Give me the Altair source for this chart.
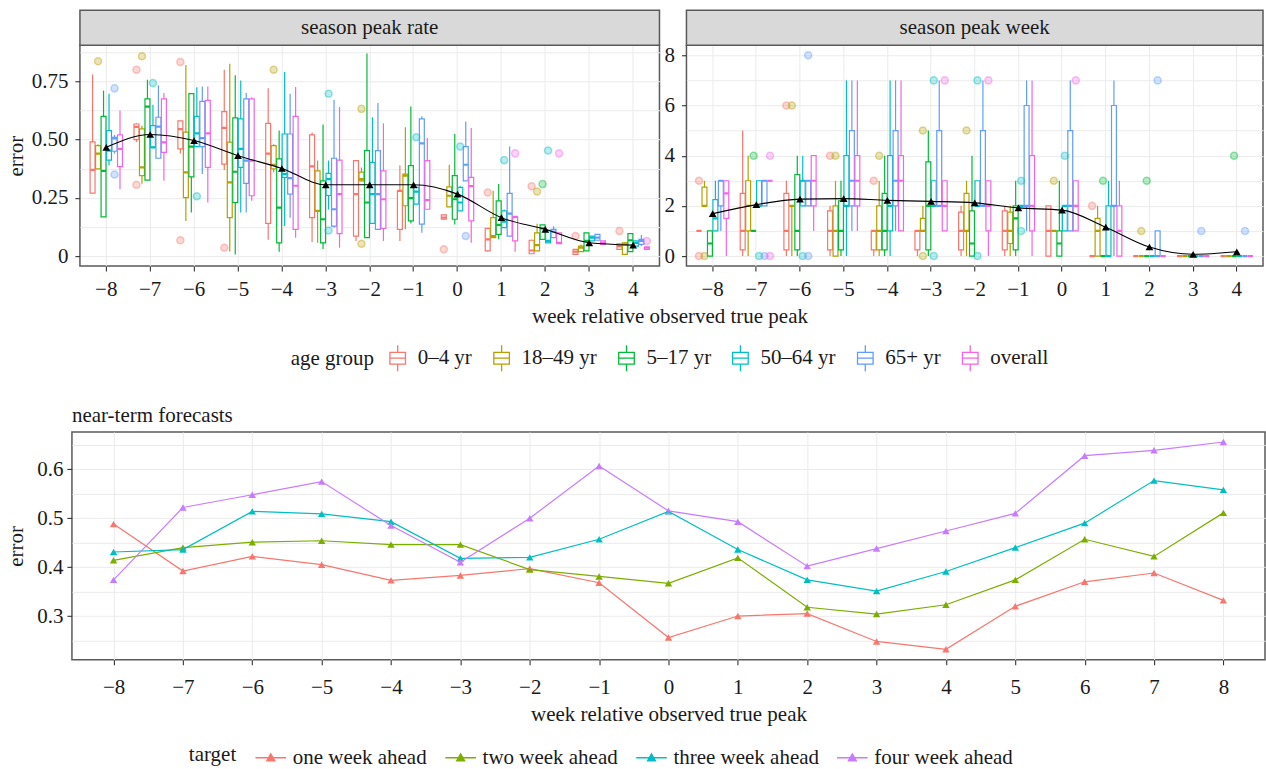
import altair as alt
import pandas as pd

FONT = "Liberation Serif"
FS = 21

WEEKS_TOP = list(range(-8, 5))
AGE_GROUPS = ["0–4 yr", "18–49 yr", "5–17 yr", "50–64 yr", "65+ yr", "overall"]
AGE_COLORS = ["#F8766D", "#B79F00", "#00BA38", "#00BFC4", "#619CFF", "#F564E3"]

# ---- season peak rate: (lower whisker, q1, median, q3, upper whisker) for weeks -8..4
RATE_0_4 = [(0.27, 0.27, 0.37, 0.49, 0.78), (0.49, 0.50, 0.555, 0.567, 0.57), (0.44, 0.46, 0.545, 0.58, 0.58),
            (0.37, 0.395, 0.55, 0.62, 0.80), (0.07, 0.14, 0.44, 0.57, 0.72), (0.06, 0.165, 0.385, 0.52, 0.53),
            (0.065, 0.086, 0.266, 0.41, 0.41), (0.065, 0.115, 0.28, 0.28, 0.39), (0.158, 0.158, 0.165, 0.177, 0.18),
            (0.02, 0.022, 0.072, 0.119, 0.12), (0.01, 0.01, 0.024, 0.068, 0.07), (0.007, 0.007, 0.019, 0.029, 0.03),
            (0.029, 0.029, 0.043, 0.053, 0.055)]
RATE_18_49 = [(0.374, 0.374, 0.44, 0.474, 0.48), (0.31, 0.345, 0.381, 0.546, 0.56), (0.151, 0.251, 0.359, 0.532, 0.82),
              (0.02, 0.165, 0.316, 0.489, 0.826), (0.36, 0.374, 0.392, 0.474, 0.48), (0.057, 0.194, 0.194, 0.366, 0.41),
              (0.32, 0.323, 0.33, 0.36, 0.38), (0.115, 0.216, 0.345, 0.352, 0.553), (0.211, 0.211, 0.259, 0.297, 0.392),
              (0.079, 0.079, 0.086, 0.165, 0.28), (0.022, 0.022, 0.047, 0.10, 0.139), (0.019, 0.019, 0.036, 0.043, 0.05),
              (0.007, 0.007, 0.05, 0.057, 0.06)]
RATE_5_17 = [(0.168, 0.168, 0.366, 0.60, 0.71), (0.326, 0.326, 0.642, 0.675, 0.757), (0.187, 0.34, 0.47, 0.697, 0.70),
             (0.007, 0.23, 0.362, 0.593, 0.776), (0.019, 0.057, 0.208, 0.417, 0.539), (0.03, 0.057, 0.158, 0.323, 0.565),
             (0.079, 0.079, 0.23, 0.453, 0.87), (0.14, 0.151, 0.249, 0.388, 0.642), (0.136, 0.158, 0.244, 0.345, 0.524),
             (0.072, 0.093, 0.134, 0.237, 0.309), (0.072, 0.072, 0.119, 0.134, 0.134), (0.022, 0.022, 0.065, 0.10, 0.10),
             (0.019, 0.019, 0.068, 0.096, 0.096)]
RATE_50_64 = [(0.39, 0.412, 0.453, 0.539, 0.697), (0.467, 0.467, 0.467, 0.56, 0.65), (0.47, 0.47, 0.527, 0.60, 0.725),
              (0.187, 0.381, 0.46, 0.589, 0.754), (0.129, 0.338, 0.352, 0.524, 0.79), (0.20, 0.26, 0.33, 0.355, 0.41),
              (0.14, 0.14, 0.266, 0.402, 0.596), (0.223, 0.223, 0.277, 0.295, 0.295), (0.194, 0.194, 0.23, 0.295, 0.30),
              (0.122, 0.122, 0.148, 0.194, 0.20), (0.057, 0.057, 0.065, 0.11, 0.11), (0.065, 0.065, 0.079, 0.086, 0.086),
              (0.043, 0.043, 0.057, 0.065, 0.065)]
RATE_65 = [(0.44, 0.45, 0.505, 0.51, 0.52), (0.42, 0.42, 0.556, 0.596, 0.733), (0.352, 0.47, 0.506, 0.664, 0.728),
           (0.187, 0.312, 0.41, 0.675, 0.70), (0.165, 0.266, 0.335, 0.524, 0.697), (0.122, 0.129, 0.201, 0.42, 0.67),
           (0.115, 0.115, 0.266, 0.453, 0.657), (0.10, 0.137, 0.484, 0.589, 0.60), (0.323, 0.323, 0.392, 0.47, 0.578),
           (0.086, 0.086, 0.182, 0.269, 0.47), (0.079, 0.079, 0.105, 0.115, 0.128), (0.068, 0.068, 0.079, 0.093, 0.093),
           (0.043, 0.05, 0.065, 0.072, 0.09)]
RATE_OVERALL = [(0.287, 0.384, 0.46, 0.52, 0.625), (0.323, 0.445, 0.488, 0.675, 0.70), (0.23, 0.381, 0.527, 0.668, 0.728),
                (0.237, 0.259, 0.41, 0.675, 0.682), (0.079, 0.115, 0.302, 0.60, 0.726), (0.036, 0.096, 0.266, 0.412, 0.64),
                (0.065, 0.119, 0.244, 0.366, 0.57), (0.201, 0.201, 0.24, 0.41, 0.507), (0.057, 0.151, 0.30, 0.338, 0.55),
                (0.019, 0.065, 0.168, 0.168, 0.168), (0.053, 0.053, 0.057, 0.10, 0.10), (0.05, 0.05, 0.057, 0.065, 0.065),
                (0.029, 0.029, 0.036, 0.039, 0.039)]
RATE_OUTLIERS = {
    "0–4 yr": [(-7, 0.80), (-7, 0.306), (-6, 0.833), (-6, 0.068), (-5, 0.036), (0, 0.029), (1, 0.273), (2, 0.30), (3, 0.086), (4, 0.108)],
    "18–49 yr": [(-8, 0.836), (-7, 0.858), (-4, 0.80), (-2, 0.632), (-2, 0.053), (2, 0.277)],
    "5–17 yr": [(2, 0.309)],
    "50–64 yr": [(-7, 0.743), (-6, 0.257), (-3, 0.697), (-3, 0.11), (-1, 0.51), (0, 0.47), (1, 0.412), (2, 0.453)],
    "65+ yr": [(-8, 0.72), (-8, 0.35), (0, 0.086)],
    "overall": [(1, 0.441), (2, 0.441), (4, 0.065)],
}
RATE_MEAN = [0.467, 0.522, 0.496, 0.431, 0.376, 0.306, 0.306, 0.306, 0.266, 0.165, 0.115, 0.057, 0.047]

# ---- season peak week
WEEK_0_4 = [(1, 1, 1, 1, 1), (0, 0.25, 1, 2.5, 5), (0, 0.25, 1, 2.5, 3), (0, 0.25, 1, 1.8, 2), (0, 0.25, 1, 1, 1),
            (0, 0.25, 1, 1, 1), (0, 0.25, 1, 1.75, 2), (0, 0.25, 1, 1.8, 2), (0, 0, 1, 2, 2), (0, 0, 0, 0, 0),
            (0, 0, 0, 0, 0), (0, 0, 0, 0, 0), (0, 0, 0, 0, 0)]
WEEK_18_49 = [(2, 2, 2, 2.75, 3), (0, 1, 2, 3, 4), (0, 2, 2, 2, 2), (0, 0, 1, 2, 3), (0, 0.25, 1, 2, 3),
              (1, 1, 1, 1.5, 2), (0, 1, 1, 2.5, 3), (0, 0.5, 1, 1.75, 2), (1, 1, 1, 1, 1), (0, 0, 1, 1.5, 2),
              (0, 0, 0, 0, 0), (0, 0, 0, 0, 0), (0, 0, 0, 0, 0)]
WEEK_5_17 = [(0, 0, 0.5, 1, 1), (1, 1, 1, 1, 1), (0, 0.25, 1, 3.25, 4), (0, 0.25, 1, 2.2, 3), (0, 0.25, 1, 2.5, 4),
             (0, 0.25, 2, 3.75, 5), (0, 0, 0.5, 1.8, 4), (0, 0.25, 1.5, 2, 3), (0, 0, 0.5, 1, 3), (0, 0, 0, 0, 0),
             (0, 0, 0, 0, 0), (0, 0, 0, 0, 0), (0, 0, 0, 0, 0)]
WEEK_50_64 = [(1, 1, 1.5, 2.25, 3), (2, 2, 2, 3, 3), (2, 2, 3, 3, 4), (0, 2, 2, 4, 7), (0, 1, 2, 4, 7),
              (2, 2, 2, 3, 3), (2, 2, 2, 3, 3), (2, 2, 2, 2, 2), (1, 1, 2, 2, 2), (0, 0, 0, 2, 3),
              (0, 0, 0, 0, 0), (0, 0, 0, 0, 0), (0, 0, 0, 0, 0)]
WEEK_65 = [(1, 2, 3, 3, 3), (2, 2, 3, 3, 3), (2, 2, 3, 3, 3), (1, 2, 3, 5, 7), (1, 2, 3, 5, 7),
           (2, 2, 2, 5, 7), (2, 2, 2, 5, 7), (1, 2, 2, 6, 7), (1, 1, 2, 5, 7), (0, 2, 2, 6, 7),
           (0, 0, 0, 1, 1), (0, 0, 0, 0, 0), (0, 0, 0, 0, 0)]
WEEK_OVERALL = [(0, 1.5, 2.5, 3, 3), (3, 3, 3, 3, 3), (1, 2, 3, 4, 4), (1, 2, 3, 4, 7), (1, 1, 3, 4, 7),
                (1, 1, 2, 3, 3), (0, 1, 2, 3, 3), (0, 1, 2, 4, 7), (1, 1, 2, 3, 3), (0, 0, 1, 2, 3),
                (0, 0, 0, 0, 0), (0, 0, 0, 0, 0), (0, 0, 0, 0, 0)]
WEEK_OUTLIERS = {
    "0–4 yr": [(-8, 0), (-8, 3), (-6, 6), (-5, 4), (-4, 3), (1, 2)],
    "18–49 yr": [(-8, 0), (-6, 6), (-5, 4), (-4, 4), (-3, 5), (-3, 0), (-2, 5), (0, 3), (2, 1)],
    "5–17 yr": [(-7, 4), (1, 3), (2, 3), (4, 4)],
    "50–64 yr": [(-7, 0), (-6, 0), (-3, 7), (-3, 0), (-2, 7), (-2, 0), (-1, 3), (-1, 1), (0, 4)],
    "65+ yr": [(-7, 0), (-6, 8), (-6, 0), (2, 7), (3, 1), (4, 1)],
    "overall": [(-7, 4), (-7, 0), (-3, 7), (-2, 7), (0, 7)],
}
WEEK_MEAN = [1.69, 2.05, 2.27, 2.29, 2.22, 2.18, 2.12, 1.92, 1.83, 1.15, 0.36, 0.07, 0.17]

# ---- near-term forecasts
WEEKS_BOTTOM = list(range(-8, 9))
TARGETS = ["one week ahead", "two week ahead", "three week ahead", "four week ahead"]
TARGET_COLORS = ["#F8766D", "#7CAE00", "#00BFC4", "#C77CFF"]
ONE_WEEK = [0.488, 0.392, 0.422, 0.405, 0.373, 0.383, 0.397, 0.368, 0.256, 0.300, 0.305, 0.248, 0.232, 0.320, 0.370, 0.388, 0.332]
TWO_WEEK = [0.414, 0.440, 0.451, 0.454, 0.446, 0.446, 0.395, 0.381, 0.367, 0.419, 0.318, 0.304, 0.323, 0.374, 0.457, 0.422, 0.511]
THREE_WEEK = [0.431, 0.436, 0.514, 0.509, 0.493, 0.418, 0.420, 0.457, 0.514, 0.436, 0.374, 0.351, 0.391, 0.440, 0.490, 0.577, 0.558]
FOUR_WEEK = [0.374, 0.522, 0.548, 0.575, 0.485, 0.410, 0.500, 0.607, 0.515, 0.493, 0.402, 0.438, 0.474, 0.510, 0.628, 0.639, 0.656]

BOX_PATH = "M-0.6,-0.45H0.6V0.45H-0.6Z M-0.6,0H0.6 M0,-0.45V-1 M0,0.45V1"
LINE_PATH = "M-0.9,-0.045H0.9V0.045H-0.9Z M-0.3,0.22L0,-0.3L0.3,0.22Z"

BORDER = "#5a5a5a"
STRIP_H = 35


def box_frame(stats_list):
    rows = []
    for g, stats in zip(AGE_GROUPS, stats_list):
        for w, (lo, q1, md, q3, hi) in zip(WEEKS_TOP, stats):
            rows.append(dict(week=w, group=g, lo=lo, q1=q1, med=md, q3=q3, hi=hi))
    return pd.DataFrame(rows)


def outlier_frame(outliers):
    rows = []
    for g in AGE_GROUPS:
        for w, v in outliers.get(g, []):
            rows.append(dict(week=w, group=g, fgroup=g, value=v))
    return pd.DataFrame(rows)


age_legend = alt.Legend(title="age group", orient="none", legendX=211, legendY=299, direction="horizontal",
                        titleOrient="left", symbolType=BOX_PATH, symbolSize=676, symbolStrokeWidth=1.3,
                        symbolFillColor="white",
                        labelFont=FONT, labelFontSize=FS, titleFont=FONT, titleFontSize=FS,
                        titleFontWeight="normal", columnPadding=15, labelOffset=6, titlePadding=9,
                        labelColor="#1a1a1a", titleColor="#1a1a1a")


def top_panel(stats_list, outliers, mean_vals, strip_label, width, height, ydomain, yvalues,
              major_test, label_expr, ytitle, xtitle):
    box_df = box_frame(stats_list)
    out_df = outlier_frame(outliers)
    mean_df = pd.DataFrame({"week": WEEKS_TOP, "value": mean_vals})

    xscale = alt.Scale(domain=WEEKS_TOP, paddingInner=0.25, paddingOuter=0.225)
    xaxis_kw = dict(labelExpr="replace(datum.label, '-', '−')", grid=True, labelAngle=0,
                    labelPadding=7, tickSize=5)
    if xtitle:
        xaxis_kw.update(title=xtitle, titleX=590, titlePadding=6)
    else:
        xaxis_kw.update(title=None)
    x = alt.X("week:O", scale=xscale, axis=alt.Axis(**xaxis_kw))
    yscale = alt.Scale(domain=ydomain, nice=False, zero=False)
    yaxis_kw = dict(values=yvalues, labelExpr=label_expr,
                    tickOpacity={"condition": {"test": "!(" + major_test + ")", "value": 0}, "value": 1},
                    tickSize=5, labelPadding=7)
    if ytitle:
        yaxis_kw.update(title=ytitle, minExtent=49, maxExtent=49, titlePadding=4)
    else:
        yaxis_kw.update(title=None)
    yaxis = alt.Axis(**yaxis_kw)
    cscale = alt.Scale(domain=AGE_GROUPS, range=AGE_COLORS)
    # fill scale lists the same groups in reverse order so it stays a separate scale from the legend's stroke scale
    fscale = alt.Scale(domain=AGE_GROUPS[::-1], range=AGE_COLORS[::-1])
    stroke = alt.Stroke("group:N", scale=cscale, legend=age_legend)
    fill_nl = alt.Fill("fgroup:N", scale=fscale, legend=None)
    xoff = alt.XOffset("group:N", scale=alt.Scale(domain=AGE_GROUPS, paddingInner=0.1, paddingOuter=0.05))

    base = alt.Chart(box_df)
    whiskers = base.mark_rule(strokeWidth=1.2).encode(
        x=x, xOffset=xoff, y=alt.Y("lo:Q", scale=yscale, axis=yaxis), y2="hi:Q", stroke=stroke)
    boxes = base.mark_bar(fill="white", strokeWidth=1.2).encode(
        x=x, xOffset=xoff, y=alt.Y("q1:Q", scale=yscale, axis=yaxis), y2="q3:Q", stroke=stroke)
    medians = base.mark_bar(fill="white", strokeWidth=2.2).encode(
        x=x, xOffset=xoff, y=alt.Y("med:Q", scale=yscale, axis=yaxis), y2="med:Q", stroke=stroke)
    outs = alt.Chart(out_df).mark_point(shape="circle", filled=True, size=50, fillOpacity=0.28,
                                         strokeOpacity=0.4, strokeWidth=1.5).encode(
        x=x, xOffset=xoff, y=alt.Y("value:Q", scale=yscale, axis=yaxis), fill=fill_nl, stroke=stroke)
    mean_line = alt.Chart(mean_df).mark_line(color="black", strokeWidth=1.1, interpolate="monotone").encode(
        x=x, y=alt.Y("value:Q", scale=yscale, axis=yaxis))
    mean_pts = alt.Chart(mean_df).mark_point(shape="triangle-up", filled=True, color="black", size=60, opacity=1).encode(
        x=x, y=alt.Y("value:Q", scale=yscale, axis=yaxis))
    strip_df = pd.DataFrame({"label": [strip_label]})
    strip = alt.Chart(strip_df).mark_rect(fill="#D9D9D9", stroke=BORDER, strokeWidth=1.5).encode(
        x=alt.value(0), x2=alt.value(width), y=alt.value(-STRIP_H), y2=alt.value(0))
    strip_text = alt.Chart(strip_df).mark_text(font=FONT, fontSize=FS, color="#1a1a1a", baseline="middle").encode(
        x=alt.value(width / 2), y=alt.value(-STRIP_H / 2), text="label:N")
    return alt.layer(whiskers, boxes, medians, outs, mean_line, mean_pts, strip, strip_text).properties(
        width=width, height=height)


left = top_panel([RATE_0_4, RATE_18_49, RATE_5_17, RATE_50_64, RATE_65, RATE_OVERALL], RATE_OUTLIERS, RATE_MEAN,
                 "season peak rate", 580, 221, [-0.043, 0.905],
                 [0, 0.125, 0.25, 0.375, 0.5, 0.625, 0.75, 0.875],
                 "abs(datum.value*4 - round(datum.value*4)) < 0.001",
                 "abs(datum.value*4 - round(datum.value*4)) < 0.001 ? (datum.value == 0 ? '0' : format(datum.value, '.2f')) : ''",
                 "error", "week relative observed true peak")
right = top_panel([WEEK_0_4, WEEK_18_49, WEEK_5_17, WEEK_50_64, WEEK_65, WEEK_OVERALL], WEEK_OUTLIERS, WEEK_MEAN,
                  "season peak week", 577, 221, [-0.4, 8.4], list(range(0, 9)),
                  "datum.value % 2 == 0",
                  "datum.value % 2 == 0 ? format(datum.value, 'd') : ''",
                  None, None)

panels = alt.hconcat(left, right, spacing=27, bounds="flush").resolve_scale(
    x="independent", y="independent", xOffset="independent", fill="shared", stroke="shared")

# spacer shifting the upper row 8 px to the right of the lower panel
spacer = alt.Chart(pd.DataFrame({"a": [0]})).mark_point(opacity=0).encode(
    x=alt.value(0), y=alt.value(0)).properties(width=8, height=221, view=alt.ViewBackground(stroke="transparent"))
top = alt.hconcat(spacer, panels, spacing=0, bounds="flush").resolve_scale(
    fill="independent", stroke="independent")

# ---- bottom panel
rows = []
for t, vals in zip(TARGETS, [ONE_WEEK, TWO_WEEK, THREE_WEEK, FOUR_WEEK]):
    for w, v in zip(WEEKS_BOTTOM, vals):
        rows.append(dict(week=w, target=t, error=v))
bdf = pd.DataFrame(rows)

bx = alt.X("week:Q", scale=alt.Scale(domain=[-8.6, 8.6], nice=False, zero=False),
           axis=alt.Axis(values=WEEKS_BOTTOM, format="d", title="week relative observed true peak", grid=True,
                         labelPadding=12, tickSize=5, titlePadding=6))
bmajor = "abs(datum.value*10 - round(datum.value*10)) < 0.001"
by = alt.Y("error:Q", scale=alt.Scale(domain=[0.2105, 0.6765], nice=False, zero=False),
           axis=alt.Axis(values=[0.25, 0.3, 0.35, 0.4, 0.45, 0.5, 0.55, 0.6, 0.65],
                         labelExpr=bmajor + " ? format(datum.value, '.1f') : ''",
                         tickOpacity={"condition": {"test": "!(" + bmajor + ")", "value": 0}, "value": 1},
                         title="error", minExtent=41, maxExtent=41, titlePadding=4, tickSize=5, labelPadding=4))
tscale = alt.Scale(domain=TARGETS, range=TARGET_COLORS)
target_legend = alt.Legend(title="target", orient="none", legendX=117, legendY=309, direction="horizontal",
                           titleOrient="left", symbolType=LINE_PATH, symbolSize=1156, symbolStrokeWidth=0,
                           labelFont=FONT, labelFontSize=FS, titleFont=FONT, titleFontSize=FS,
                           titleFontWeight="normal", columnPadding=16, labelOffset=5, titlePadding=17,
                           labelColor="#1a1a1a", titleColor="#1a1a1a")
tcolor = alt.Color("target:N", scale=tscale, legend=target_legend)
pts = alt.Chart(bdf).mark_point(shape="triangle-up", filled=True, size=55, opacity=1).encode(
    x=bx, y=by, color=tcolor)
lines = alt.Chart(bdf).mark_line(strokeWidth=1.2).encode(x=bx, y=by, color=tcolor)
bottom = alt.layer(pts, lines).properties(
    width=1194, height=228,
    title=alt.TitleParams("near-term forecasts", anchor="start", frame="group", offset=6,
                          font=FONT, fontSize=FS, fontWeight="normal", color="#1a1a1a"))

chart = alt.vconcat(top, bottom, spacing=30).resolve_scale(
    color="independent", x="independent", y="independent").properties(
    padding={"left": 5, "top": 8, "right": 0, "bottom": 0}
).configure(font=FONT).configure_view(stroke=BORDER, strokeWidth=1.5).configure_axis(
    labelFont=FONT, labelFontSize=FS, titleFont=FONT, titleFontSize=FS, titleFontWeight="normal",
    labelColor="#1a1a1a", titleColor="#1a1a1a", tickColor="#333333", tickWidth=1.1,
    gridColor="#EBEBEB", gridWidth=1, domain=False)

chart.save("out.html", embed_options={"renderer": "svg", "actions": False})
